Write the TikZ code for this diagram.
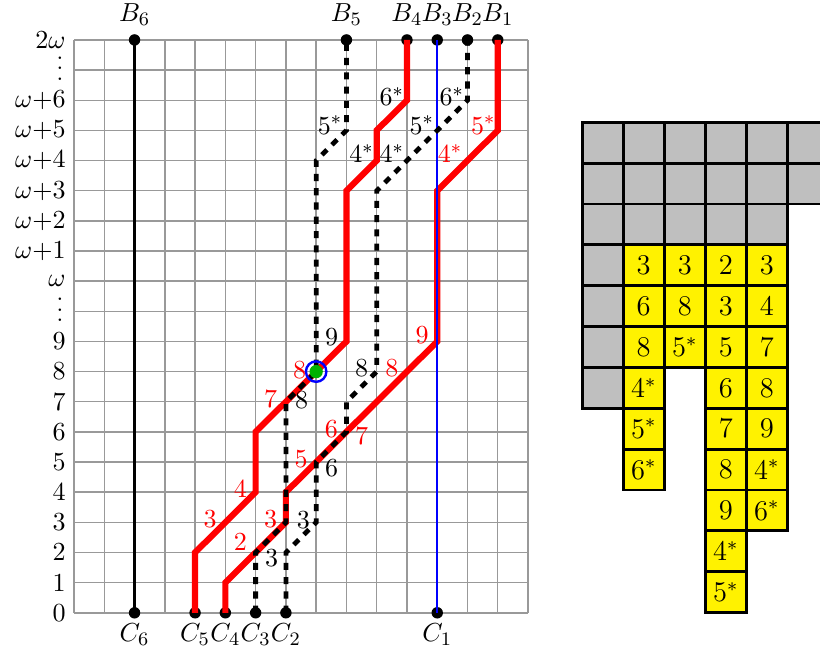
\documentclass[tikz,border=0pt]{standalone}
\newcommand{\myvdots}{\smash{\vbox{\baselineskip4.45pt\lineskiplimit0pt\hbox{.}\hbox{.}\hbox{.}}}}
\begin{document}
\begin{tikzpicture}[x=12.72pt,y=12.67pt,
  font=\fontsize{11.1}{13.3}\selectfont,
  gridline/.style={gray!80, line width=0.6pt},
  redpath/.style={red, line width=2.6pt},
  dashpath/.style={black, line width=2pt, dash pattern=on 3pt off 3pt},
  blackpath/.style={black, line width=1.4pt},
  bluepath/.style={blue, line width=1pt},
  dot/.style={circle, fill=black, inner sep=0pt, minimum size=4.8pt},
  rlab/.style={red, inner sep=0pt},
  blab/.style={black, inner sep=0pt},
  cellg/.style={fill=lightgray, draw=black, line width=1.2pt},
  celly/.style={fill=yellow, draw=black, line width=1.2pt}]
\useasboundingbox (-2.445,-1.127) rectangle (24.645,20.325);
\clip (-2.445,-1.127) rectangle (24.645,20.325);

% grid
\draw[gridline, step=1] (0,0) grid (15,19);

% axis labels
\foreach \r in {0,...,9} \node[left] (y\r) at (0,\r) {$\r$};
\node[left, inner sep=0pt, yshift=-4.4pt] (ydotsA) at (-0.33,10) {\myvdots};
\node[left] (yw) at (0,11) {$\omega$};
\foreach \k in {1,...,6} {
  \pgfmathtruncatemacro{\rr}{11+\k}
  \node[left] (yw\k) at (0,\rr) {$\omega{+}\k$};
}
\node[left, inner sep=0pt, yshift=-4.4pt] (ydotsB) at (-0.33,18) {\myvdots};
\node[left] (y2w) at (0,19) {$2\omega$};

% end points
\node[dot, label={[label distance=0pt]above:$B_6$}] (B6) at (2,19) {};
\node[dot, label={[label distance=0pt]above:$B_5$}] (B5) at (9,19) {};
\node[dot, label={[label distance=0pt]above:$B_4$}] (B4) at (11,19) {};
\node[dot, label={[label distance=0pt]above:$B_3$}] (B3) at (12,19) {};
\node[dot, label={[label distance=0pt]above:$B_2$}] (B2) at (13,19) {};
\node[dot, label={[label distance=0pt]above:$B_1$}] (B1) at (14,19) {};
\node[dot, label={[label distance=-1.5pt]below:$C_6$}] (C6) at (2,0) {};
\node[dot, label={[label distance=-1.5pt]below:$C_5$}] (C5) at (4,0) {};
\node[dot, label={[label distance=-1.5pt]below:$C_4$}] (C4) at (5,0) {};
\node[dot, label={[label distance=-1.5pt]below:$C_3$}] (C3) at (6,0) {};
\node[dot, label={[label distance=-1.5pt]below:$C_2$}] (C2) at (7,0) {};
\node[dot, label={[label distance=-1.5pt]below:$C_1$}] (C1) at (12,0) {};

% paths
\draw[blackpath] (C6.center) -- (B6.center);
\draw[redpath] (C5.center) -- (4,2) -- (6,4) -- (6,6) -- (9,9) -- (9,14) -- (10,15) -- (10,16) -- (11,17) -- (B4.center);
\draw[redpath] (C4.center) -- (5,1) -- (7,3) -- (7,4) -- (12,9) -- (12,14) -- (14,16) -- (B1.center);
\draw[bluepath] (C1.center) -- (B3.center);
\draw[dashpath] (C3.center) -- (6,2) -- (7,3) -- (7,7) -- (8,8) -- (8,15) -- (9,16) -- (B5.center);
\draw[dashpath] (C2.center) -- (7,2) -- (8,3) -- (8,5) -- (9,6) -- (9,7) -- (10,8) -- (10,14) -- (13,17) -- (B2.center);

% marked point
\node[circle, draw=blue, line width=1pt, minimum size=8.6pt, inner sep=0pt] (ring) at (8,8) {};
\node[circle, fill=green!70!black, minimum size=5.6pt, inner sep=0pt] (gdot) at (8,8) {};

% red labels
\node[rlab] (r1) at (4.5,3.1) {$3$};
\node[rlab] (r2) at (5.5,4.1) {$4$};
\node[rlab] (r3) at (5.5,2.35) {$2$};
\node[rlab] (r4) at (6.5,3.1) {$3$};
\node[rlab] (r5) at (7.5,5.1) {$5$};
\node[rlab] (r6) at (8.5,6.1) {$6$};
\node[rlab] (r7) at (9.5,5.85) {$7$};
\node[rlab] (r8) at (6.5,7.1) {$7$};
\node[rlab] (r9) at (7.45,8.05) {$8$};
\node[rlab] (r10) at (10.5,8.1) {$8$};
\node[rlab] (r11) at (11.5,9.2) {$9$};
\node[rlab] (r12) at (12.42,15.24) {$4^*$};
\node[rlab] (r13) at (13.52,16.18) {$5^*$};

% black labels
\node[blab] (k1) at (7.58,3.08) {$3$};
\node[blab] (k2) at (6.53,1.82) {$3$};
\node[blab] (k3) at (8.51,4.8) {$6$};
\node[blab] (k4) at (7.52,7.06) {$8$};
\node[blab] (k5) at (9.5,8.11) {$8$};
\node[blab] (k6) at (8.51,9.16) {$9$};
\node[blab] (k7) at (8.46,16.18) {$5^*$};
\node[blab] (k8) at (9.5,15.24) {$4^*$};
\node[blab] (k9) at (10.5,15.24) {$4^*$};
\node[blab] (k10) at (11.49,16.18) {$5^*$};
\node[blab] (k11) at (10.5,17.12) {$6^*$};
\node[blab] (k12) at (12.48,17.12) {$6^*$};

% table
\begin{scope}[shift={(16.79,16.27)}, x=17.23pt, y=-17.17pt]
  \foreach \c/\r in {0/0,1/0,2/0,3/0,4/0,5/0,0/1,1/1,2/1,3/1,4/1,5/1,0/2,1/2,2/2,3/2,4/2,0/3,0/4,0/5,0/6}
    \draw[cellg] (\c,\r) rectangle ++(1,1);
  \foreach \c/\r/\t in {1/3/3,2/3/3,3/3/2,4/3/3,1/4/6,2/4/8,3/4/3,4/4/4,1/5/8,2/5/5^*,3/5/5,4/5/7,1/6/4^*,3/6/6,4/6/8,1/7/5^*,3/7/7,4/7/9,1/8/6^*,3/8/8,4/8/4^*,3/9/9,4/9/6^*,3/10/4^*,3/11/5^*} {
    \draw[celly] (\c,\r) rectangle ++(1,1);
    \node[font=\fontsize{12}{14}\selectfont] (t\c-\r) at (\c+0.5,\r+0.5) {$\t$};
  }
\end{scope}
\end{tikzpicture}
\end{document}
